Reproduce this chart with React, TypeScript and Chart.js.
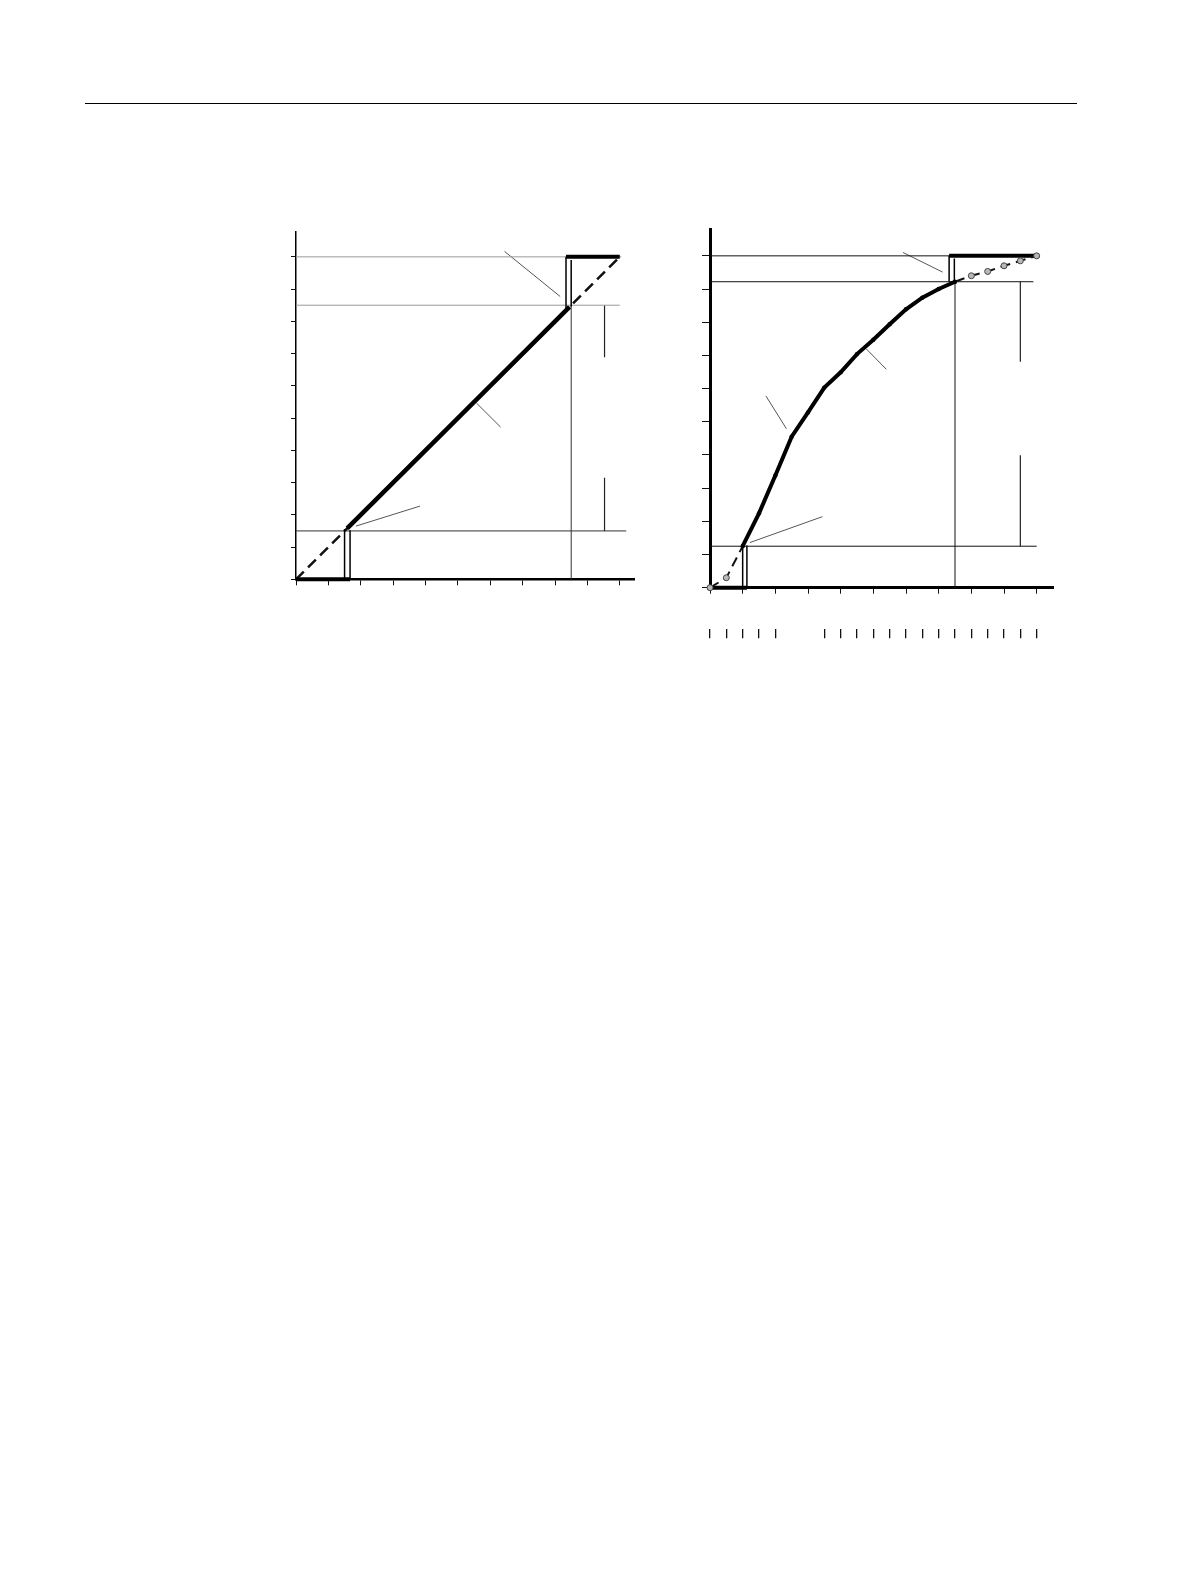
import React, { useEffect, useRef } from 'react';
import { Chart, registerables } from 'chart.js';

Chart.register(...registerables);

type Pt = [number, number];

// ---- left panel: straight-line relation ----
const LEFT_TICKS = [0, 1, 2, 3, 4, 5, 6, 7, 8, 9, 10];
const LEFT_DIAGONAL: Pt[] = [[0, 0], [10, 10]];
const LEFT_MAIN: Pt[] = [[1.58, 1.58], [8.45, 8.45]];
const LEFT_LOW_BASE: Pt[] = [[0, 0], [1.67, 0]];
const LEFT_LOW_RISERS: Pt[][] = [[[1.5, 0], [1.5, 1.56]], [[1.67, 0], [1.67, 1.52]]];
const LEFT_TOP_BASE: Pt[] = [[8.34, 10], [10, 10]];
const LEFT_TOP_RISERS: Pt[][] = [[[8.34, 8.4], [8.34, 10]], [[8.5, 8.45], [8.5, 9.9]]];
const LEFT_GUIDES_GRAY: Pt[][] = [[[0, 10], [10.05, 10]], [[0, 8.5], [10, 8.5]]];
const LEFT_GUIDES_DARK: Pt[][] = [[[0, 1.5], [10.2, 1.5]], [[8.5, 0], [8.5, 8.5]]];
const LEFT_BRACKET: Pt[][] = [[[9.53, 8.5], [9.53, 6.89]], [[9.53, 3.15], [9.53, 1.5]]];
const LEFT_LEADERS: Pt[][] = [
  [[6.44, 10.17], [8.16, 8.77]],
  [[5.58, 5.46], [6.32, 4.72]],
  [[1.85, 1.65], [3.83, 2.27]],
];

// ---- right panel: curved relation ----
const RIGHT_TICKS = [0, 1, 2, 3, 4, 5, 6, 7, 8, 9, 10];
const RIGHT_SUB_TICKS = [0, 0.5, 1, 1.5, 2, 3.5, 4, 4.5, 5, 5.5, 6, 6.5, 7, 7.5, 8, 8.5, 9, 9.5, 10];
const CURVE_X = [0, 0.5, 1, 1.5, 2, 2.5, 3, 3.5, 4, 4.5, 5, 5.5, 6, 6.5, 7, 7.5, 8, 8.5, 9, 9.5, 10];
const CURVE_Y = [0, 0.3, 1.25, 2.24, 3.38, 4.55, 5.28, 6.03, 6.49, 7.04, 7.47, 7.94, 8.39, 8.74, 9.0, 9.22, 9.4, 9.53, 9.7, 9.85, 10.0];
const CURVE_SOLID_FROM = 2; // x = 1
const CURVE_SOLID_TO = 15; // x = 7.5
const RIGHT_LOW_BASE: Pt[] = [[0, 0], [1.13, 0]];
const RIGHT_LOW_RISERS: Pt[][] = [[[1, 0], [1, 1.29]], [[1.13, 0], [1.13, 1.27]]];
const RIGHT_TOP_BASE: Pt[] = [[7.32, 10], [10, 10]];
const RIGHT_TOP_RISERS: Pt[][] = [[[7.32, 9.22], [7.32, 10]], [[7.48, 9.22], [7.48, 9.92]]];
const RIGHT_GUIDES: Pt[][] = [
  [[0, 10], [10, 10]],
  [[0, 9.22], [9.9, 9.22]],
  [[0, 1.25], [10, 1.25]],
  [[7.5, 0], [7.5, 9.22]],
];
const RIGHT_BRACKET: Pt[][] = [[[9.5, 9.22], [9.5, 6.81]], [[9.5, 3.99], [9.5, 1.25]]];
const RIGHT_LEADERS: Pt[][] = [
  [[5.91, 10.1], [7.12, 9.51]],
  [[4.79, 7.19], [5.4, 6.58]],
  [[1.71, 5.78], [2.34, 4.79]],
  [[1.22, 1.36], [3.44, 2.14]],
];

// build a plain line dataset from points
const seg = (pts: Pt[], color: string, width: number, extra: any = {}) => ({
  data: pts.map(([x, y]) => ({ x, y })),
  borderColor: color,
  backgroundColor: color,
  borderWidth: width,
  pointRadius: 0,
  clip: false,
  ...extra,
});

const zip = (xs: number[], ys: number[]): Pt[] => xs.map((x, i) => [x, ys[i]]);

const axis = (ticks: number[], max: number, size: number, borderWidth: number, tickLength: number, horizontal: boolean) => ({
  type: 'linear',
  min: 0,
  max,
  border: { display: true, color: '#000', width: borderWidth },
  grid: { drawOnChartArea: false, drawTicks: true, tickLength, color: '#111', lineWidth: 1 },
  ticks: { display: false },
  afterBuildTicks: (a: any) => {
    a.ticks = ticks.map((value) => ({ value }));
  },
  afterFit: (a: any) => {
    if (horizontal) a.height = size;
    else a.width = size;
  },
});

const leftConfig = () => {
  const datasets: any[] = [
    seg(LEFT_MAIN, '#000', 4.5),
    seg(LEFT_LOW_BASE, '#000', 4),
    seg(LEFT_TOP_BASE, '#000', 4),
    ...LEFT_LOW_RISERS.map((p) => seg(p, '#000', 1.5)),
    ...LEFT_TOP_RISERS.map((p) => seg(p, '#000', 1.5)),
    seg(LEFT_DIAGONAL, '#111', 2.5, { borderDash: [11, 6] }),
    ...LEFT_GUIDES_DARK.map((p) => seg(p, '#333', 1)),
    ...LEFT_GUIDES_GRAY.map((p) => seg(p, '#9a9a9a', 1)),
    ...LEFT_BRACKET.map((p) => seg(p, '#222', 1.2)),
    ...LEFT_LEADERS.map((p) => seg(p, '#555', 1)),
  ];
  return {
    type: 'line',
    data: { datasets },
    options: {
      responsive: false,
      animation: false,
      layout: { padding: { left: 0, top: 31.7, right: 36, bottom: 20.7 } },
      plugins: { legend: { display: false }, tooltip: { enabled: false } },
      scales: {
        x: axis(LEFT_TICKS, 10.44, 20, 2.5, 6, true),
        y: axis(LEFT_TICKS, 10.78, 46, 1.5, 5, false),
      },
    },
  };
};

const rightConfig = () => {
  const pts = zip(CURVE_X, CURVE_Y);
  const head = pts.slice(0, CURVE_SOLID_FROM + 1);
  const body = pts.slice(CURVE_SOLID_FROM, CURVE_SOLID_TO + 1);
  const tail = pts.slice(CURVE_SOLID_TO);
  const marker = { pointBackgroundColor: '#b8b8b8', pointBorderColor: '#444', pointBorderWidth: 1 };
  const datasets: any[] = [
    seg(body, '#000', 4, { pointRadius: 2.2, pointBackgroundColor: '#000', pointBorderWidth: 0 }),
    seg(head, '#111', 2, { borderDash: [10, 6], pointRadius: head.map((_, i) => (i < head.length - 1 ? 3 : 0)), ...marker }),
    seg(tail, '#111', 2, { borderDash: [10, 6], pointRadius: tail.map((_, i) => (i > 0 ? 3 : 0)), ...marker }),
    seg(RIGHT_LOW_BASE, '#000', 4),
    seg(RIGHT_TOP_BASE, '#000', 4),
    ...RIGHT_LOW_RISERS.map((p) => seg(p, '#000', 1.5)),
    ...RIGHT_TOP_RISERS.map((p) => seg(p, '#000', 1.5)),
    ...RIGHT_GUIDES.map((p) => seg(p, '#111', 1)),
    ...RIGHT_BRACKET.map((p) => seg(p, '#222', 1.2)),
    ...RIGHT_LEADERS.map((p) => seg(p, '#555', 1)),
  ];
  const sub: any = axis(RIGHT_SUB_TICKS, 10.5, 10, 0, 9, true);
  sub.border = { display: false };
  sub.grid = { drawOnChartArea: false, drawTicks: true, tickLength: 9, color: '#111', lineWidth: 1.3 };
  sub.position = 'bottom';
  sub.axis = 'x';
  sub.weight = 1;
  return {
    type: 'line',
    data: { datasets },
    options: {
      responsive: false,
      animation: false,
      layout: { padding: { left: 0, top: 29.3, right: 27, bottom: 20.8 } },
      plugins: { legend: { display: false }, tooltip: { enabled: false } },
      scales: {
        x: { ...axis(RIGHT_TICKS, 10.5, 41.5, 3, 6, true), position: 'bottom', weight: 0 },
        x2: sub,
        y: axis(RIGHT_TICKS, 10.8, 50, 3, 8, false),
      },
    },
  };
};

interface PanelProps {
  left: number;
  top: number;
  width: number;
  height: number;
  build: () => any;
}

const Panel: React.FC<PanelProps> = ({ left, top, width, height, build }) => {
  const canvasRef = useRef<HTMLCanvasElement>(null);

  useEffect(() => {
    if (!canvasRef.current) return;
    const chart = new Chart(canvasRef.current, build());
    return () => chart.destroy();
  }, [build]);

  return (
    <canvas
      ref={canvasRef}
      width={width}
      height={height}
      style={{ position: 'absolute', left, top, width, height }}
    />
  );
};

const App: React.FC = () => (
  <div style={{ position: 'absolute', left: 0, top: 0, width: 1191, height: 1587, background: '#fff' }}>
    <div style={{ position: 'absolute', left: 85, top: 102.5, width: 992, height: 0, borderTop: '1.3px solid #000' }} />
    <Panel left={250} top={200} width={420} height={420} build={leftConfig} />
    <Panel left={660.2} top={200} width={420} height={460} build={rightConfig} />
  </div>
);

export default App;
